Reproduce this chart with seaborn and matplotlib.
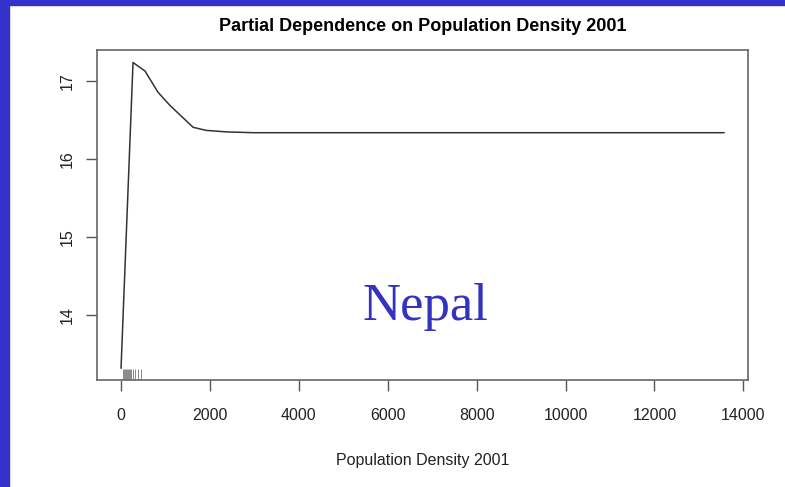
import matplotlib.pyplot as plt
import matplotlib.patches as patches
import seaborn as sns
import pandas as pd

# partial dependence curve
density = [0, 270, 540, 830, 1100, 1620, 1910, 2380, 3000, 6000, 10000, 13570]
response = [13.32, 17.24, 17.13, 16.86, 16.69, 16.41, 16.37, 16.35, 16.34, 16.34, 16.34, 16.34]

# rug of observed densities (deciles)
rug_values = [45, 67, 90, 112, 135, 157, 180, 202, 225, 270, 315, 382, 450]

x_ticks = [0, 2000, 4000, 6000, 8000, 10000, 12000, 14000]
y_ticks = [14, 15, 16, 17]

sns.set_style("white")
plt.rcParams["font.family"] = ["Liberation Sans", "DejaVu Sans"]

df = pd.DataFrame({"density": density, "response": response})

fig = plt.figure(figsize=(7.85, 4.87), dpi=100)
ax = fig.add_axes([0.1236, 0.2197, 0.8293, 0.6776])

sns.lineplot(data=df, x="density", y="response", ax=ax, color="#333333", linewidth=1.1)
sns.rugplot(x=rug_values, ax=ax, height=0.033, color="#777777", linewidth=0.6)

ax.set_xlim(-540, 14106)
ax.set_ylim(13.17, 17.40)
ax.set_xticks(x_ticks)
ax.set_xticklabels([str(t) for t in x_ticks], fontsize=11.5, color="#222222")
ax.set_yticks(y_ticks)
ax.set_yticklabels([str(t) for t in y_ticks], fontsize=11.5, color="#222222",
                   rotation=90, va="center")
ax.tick_params(axis="both", length=8, width=1, color="#555555", pad=8, direction="out",
               bottom=True, left=True)
ax.tick_params(axis="x", pad=12)
for s in ax.spines.values():
    s.set_color("#666666")
    s.set_linewidth(1.2)

ax.set_xlabel("Population Density 2001", fontsize=11.5, color="#222222", labelpad=22)
ax.set_ylabel("")
ax.set_title("Partial Dependence on Population Density 2001", fontsize=13,
             fontweight="bold", pad=14, color="black")

ax.text(0.505, 0.22, "Nepal", transform=ax.transAxes, ha="center", va="center",
        fontsize=38, color="#3333c0", family=["Liberation Serif", "DejaVu Serif"])

# blue frame of the slide
fig.patches.append(patches.Rectangle((0, 0), 9 / 785, 1, transform=fig.transFigure,
                                     color="#3333cc", zorder=0))
fig.patches.append(patches.Rectangle((0, 1 - 5 / 487), 1, 5 / 487, transform=fig.transFigure,
                                     color="#3333cc", zorder=0))

fig.savefig("out.png", dpi=100)
